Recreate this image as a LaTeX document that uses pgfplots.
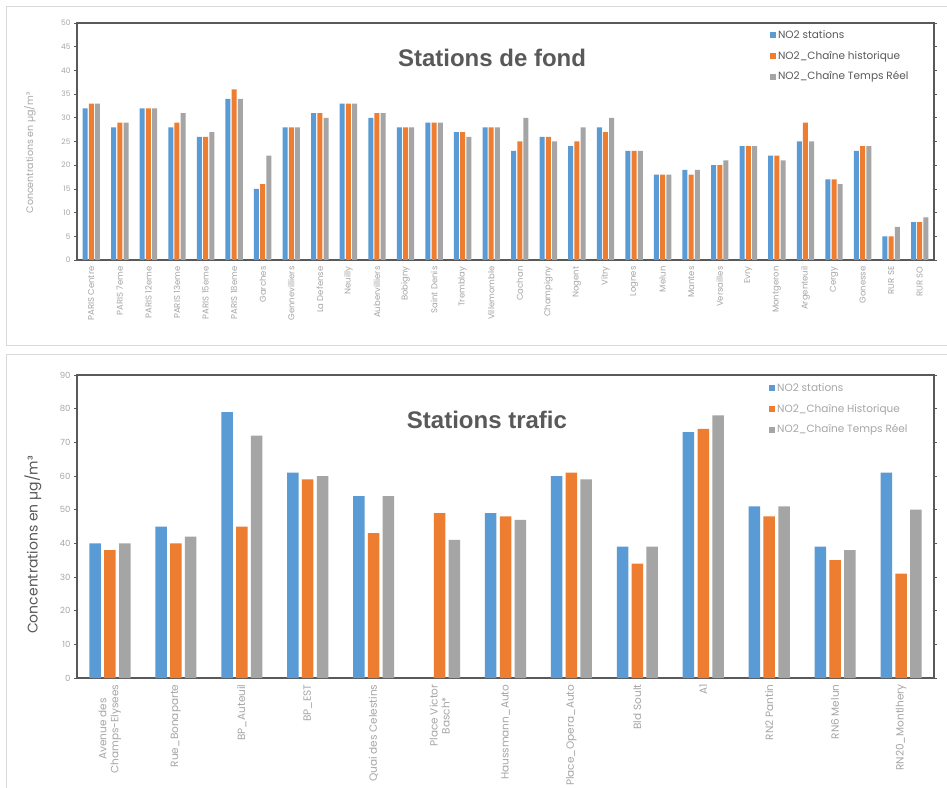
\documentclass[border=0pt]{standalone}
\usepackage{fontspec}
\setmainfont{Liberation Sans}
\newfontfamily\gothic{Poppins}
\usepackage{pgfplots}
\usepackage{pgfplotstable}
\pgfplotsset{compat=1.18}

\definecolor{cBlue}{HTML}{5B9BD5}
\definecolor{cOrange}{HTML}{ED7D31}
\definecolor{cGray}{HTML}{A5A5A5}
\definecolor{frame}{HTML}{595959}
\definecolor{lbl}{HTML}{A6A6A6}
\definecolor{panel}{HTML}{D9D9D9}

% fond stations: NO2 stations / chaine historique / chaine temps reel
\pgfplotstableread{
x s h t
0 32 33 33
1 28 29 29
2 32 32 32
3 28 29 31
4 26 26 27
5 34 36 34
6 15 16 22
7 28 28 28
8 31 31 30
9 33 33 33
10 30 31 31
11 28 28 28
12 29 29 29
13 27 27 26
14 28 28 28
15 23 25 30
16 26 26 25
17 24 25 28
18 28 27 30
19 23 23 23
20 18 18 18
21 19 18 19
22 20 20 21
23 24 24 24
24 22 22 21
25 25 29 25
26 17 17 16
27 23 24 24
28 5 5 7
29 8 8 9
}\fond

\pgfplotstableread{
x s h t
0 40 38 40
1 45 40 42
2 79 45 72
3 61 59 60
4 54 43 54
5 nan 49 41
6 49 48 47
7 60 61 59
8 39 34 39
9 73 74 78
10 51 48 51
11 39 35 38
12 61 31 50
}\trafic

\pgfplotsset{
  sq/.style={fill=#1, draw=none,
    legend image code/.code={\fill[#1] (0pt,-3pt) rectangle (6pt,3pt);}},
  no2/.style={
    scale only axis, ybar, anchor=south west,
    axis line style={frame, line width=1.1pt},
    ymin=0, enlarge x limits=false,
    xtick style={draw=none},
    tick align=outside, major tick length=3pt, minor tick length=4pt,
    ytick style={frame, line width=0.7pt},
    minor tick style={frame, line width=0.7pt},
    /pgf/number format/assume math mode=true,
    xticklabel style={rotate=90, anchor=east, text=lbl},
    yticklabel style={text=lbl},
    legend cell align=left,
  },
}

\begin{document}
\begin{tikzpicture}
\useasboundingbox (0pt,0pt) rectangle (947pt,787pt);
\fill[white] (0pt,0pt) rectangle (947pt,787pt);
\draw[panel, line width=0.8pt] (6pt,781pt) rectangle (960pt,442pt);
\draw[panel, line width=0.8pt] (6pt,433pt) rectangle (960pt,-5pt);

\begin{axis}[no2,
  at={(77pt,527pt)}, width=857pt, height=237pt,
  ymax=50, ytick={0,5,...,50},
  xmin=-0.5, xmax=29.5, xtick={0,...,29},
  minor xtick={-0.5,0.5,...,29.5},
  bar width=5pt, ybar=1.2pt,
  yticklabel style={font=\gothic\fontsize{7.5}{8}\selectfont},
  xticklabel style={font=\gothic\fontsize{8.5}{9}\selectfont},
  xticklabels={PARIS Centre, PARIS 7eme, PARIS 12eme, PARIS 13eme, PARIS 15eme, PARIS 18eme, Garches, Gennevilliers, La Defense, Neuilly, Aubervilliers, Bobigny, Saint Denis, Tremblay, Villemomble, Cachan, Champigny, Nogent, Vitry, Lognes, Melun, Mantes, Versailles, Evry, Montgeron, Argenteuil, Cergy, Gonesse, RUR SE, RUR SO},
  legend style={draw=none, fill=none, at={(0.805,0.985)}, anchor=north west,
    font=\gothic\fontsize{10.5}{12}\selectfont, text=frame, row sep=7pt},
]
\addplot[sq=cBlue] table[x=x, y=s] {\fond};
\addplot[sq=cOrange] table[x=x, y=h] {\fond};
\addplot[sq=cGray] table[x=x, y=t] {\fond};
\legend{NO2 stations, NO2\_Chaîne historique, NO2\_Chaîne Temps Réel}
\end{axis}

\begin{axis}[no2,
  at={(77pt,109pt)}, width=857pt, height=303pt,
  ymax=90, ytick={0,10,...,90},
  xmin=-0.5, xmax=12.5, xtick={0,...,12},
  minor xtick={-0.5,0.5,...,12.5},
  bar width=11.5pt, ybar=3.3pt,
  yticklabel style={font=\gothic\fontsize{8.5}{10}\selectfont},
  xticklabel style={font=\gothic\fontsize{10.5}{12}\selectfont, align=center},
  xticklabels={{Avenue des\\Champs-Elysees}, Rue\_Bonaparte, BP\_Auteuil, BP\_EST, Quai des Celestins, {Place Victor\\Basch*}, Haussmann\_Auto, Place\_Opera\_Auto, Bld Soult, A1, RN2 Pantin, RN6 Melun, RN20\_Montlhery},
  legend style={draw=none, fill=none, at={(0.804,0.985)}, anchor=north west,
    font=\gothic\fontsize{10.5}{12}\selectfont, text=lbl, row sep=7pt},
]
\addplot[sq=cBlue] table[x=x, y=s] {\trafic};
\addplot[sq=cOrange] table[x=x, y=h] {\trafic};
\addplot[sq=cGray] table[x=x, y=t] {\trafic};
\legend{NO2 stations, NO2\_Chaîne Historique, NO2\_Chaîne Temps Réel}
\end{axis}

\node[font=\bfseries\fontsize{24}{26}\selectfont, text=frame] at (492pt,729pt) {Stations de fond};
\node[font=\bfseries\fontsize{24}{26}\selectfont, text=frame] at (487pt,367pt) {Stations trafic};
\node[rotate=90, font=\gothic\fontsize{9.5}{11}\selectfont, text=lbl] at (30pt,634pt) {Concentrations en µg/m³};
\node[rotate=90, font=\gothic\fontsize{14}{16}\selectfont, text=frame] at (33pt,242pt) {Concentrations en µg/m³};
\end{tikzpicture}
\end{document}
